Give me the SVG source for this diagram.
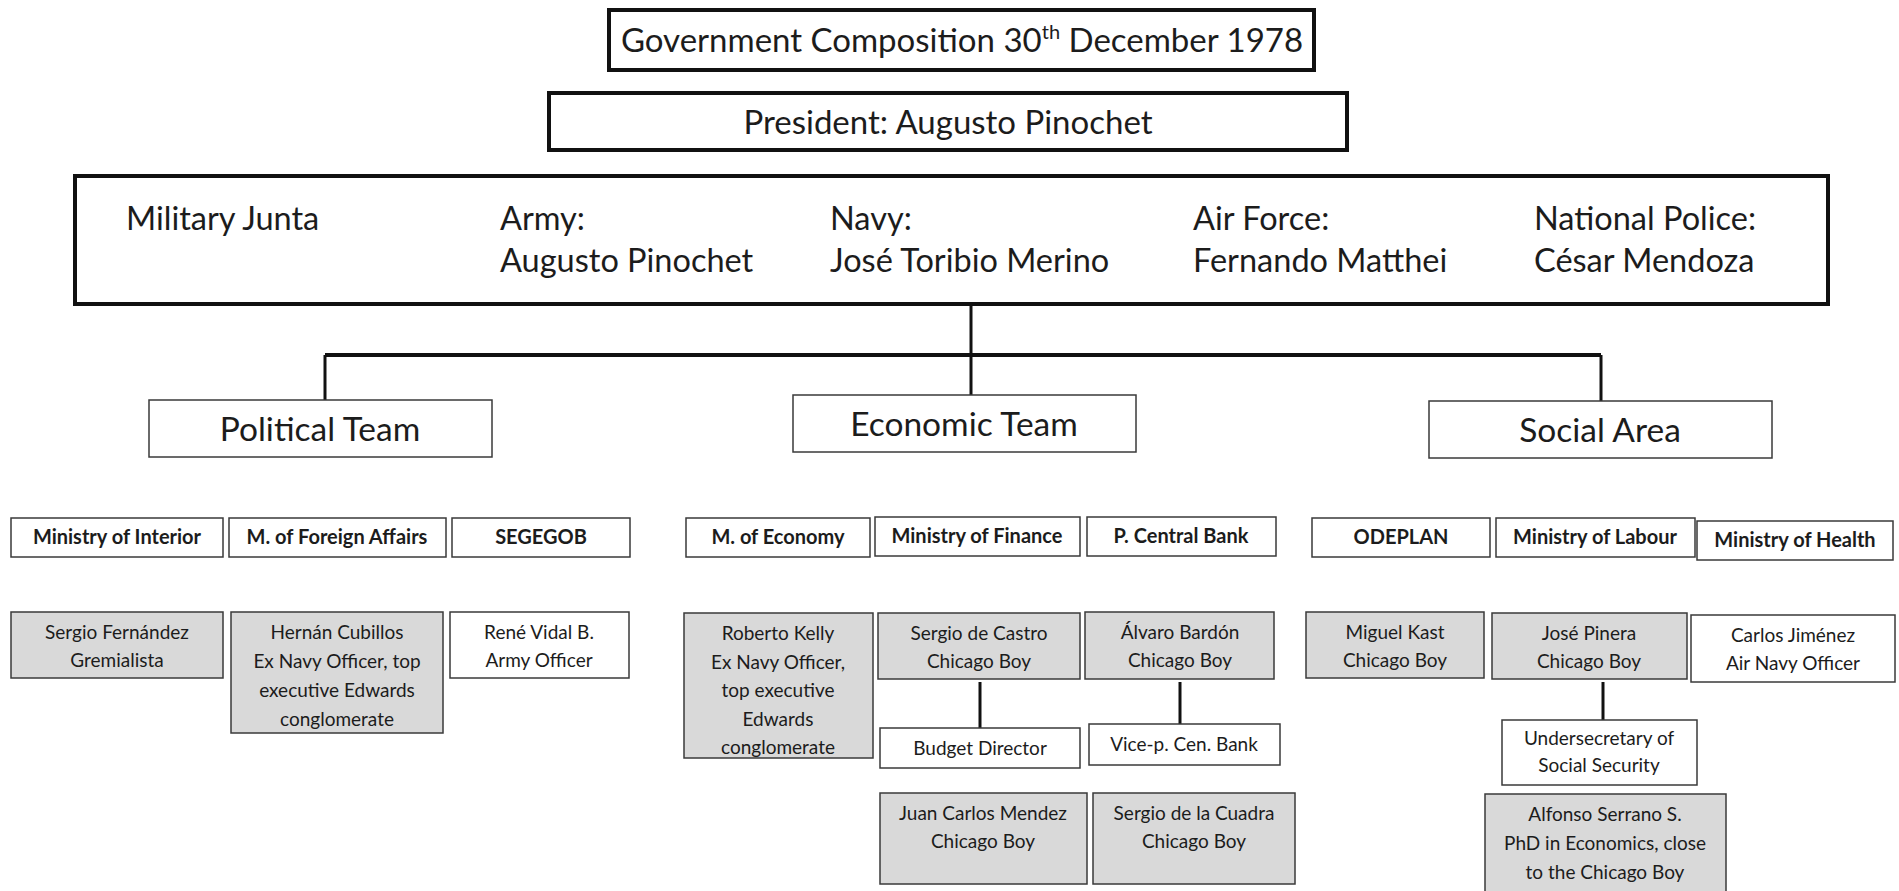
<svg xmlns="http://www.w3.org/2000/svg" width="1899" height="891" viewBox="0 0 1899 891">
  <style>
    text { font-family: Lato, "Liberation Sans", sans-serif; fill: #1c1c1c; }
    .top { fill: #ffffff; stroke: #111111; stroke-width: 4; }
    .team { fill: #ffffff; stroke: #3a3a3a; stroke-width: 1.5; }
    .min { fill: #ffffff; stroke: #3a3a3a; stroke-width: 1.5; }
    .grey { fill: #d9d9d9; stroke: #3a3a3a; stroke-width: 1.5; }
    .white { fill: #ffffff; stroke: #3a3a3a; stroke-width: 1.5; }
    .big { font-size: 33px; text-anchor: middle; }
    .junta { font-size: 32.5px; }
    .teamt { font-size: 33.5px; text-anchor: middle; }
    .mint { font-size: 20px; font-weight: bold; text-anchor: middle; }
    .pt { font-size: 19px; text-anchor: middle; }
    .conn { stroke: #111111; fill: none; }
  </style>
  <rect width="1899" height="891" fill="#ffffff"/>

  <!-- connectors -->
  <g id="connectors" class="conn">
    <line x1="971" y1="304" x2="971" y2="395" stroke-width="3"/>
    <line x1="325" y1="355" x2="1601" y2="355" stroke-width="4"/>
    <line x1="325" y1="355" x2="325" y2="400" stroke-width="3"/>
    <line x1="1601" y1="355" x2="1601" y2="401" stroke-width="3"/>
    <line x1="980" y1="682" x2="980" y2="728" stroke-width="3"/>
    <line x1="1180" y1="682" x2="1180" y2="724" stroke-width="3"/>
    <line x1="1603" y1="682" x2="1603" y2="720" stroke-width="3"/>
  </g>

  <!-- header -->
  <g id="title">
    <rect class="top" x="609" y="10" width="705" height="60" stroke-width="3.5"/>
    <text class="big" x="962" y="52">Government Composition 30<tspan font-size="20" dy="-13">th</tspan><tspan dy="13"> December 1978</tspan></text>
  </g>
  <g id="president">
    <rect class="top" x="549" y="93" width="798" height="57" stroke-width="3.5"/>
    <text class="big" x="948" y="134" font-size="30">President: Augusto Pinochet</text>
  </g>
  <g id="junta">
    <rect class="top" x="75" y="176" width="1753" height="128" stroke-width="5"/>
    <text class="junta" x="126" y="230">Military Junta</text>
    <text class="junta" x="500" y="230">Army:</text>
    <text class="junta" x="500" y="272">Augusto Pinochet</text>
    <text class="junta" x="830" y="230">Navy:</text>
    <text class="junta" x="830" y="272">José Toribio Merino</text>
    <text class="junta" x="1193" y="230">Air Force:</text>
    <text class="junta" x="1193" y="272">Fernando Matthei</text>
    <text class="junta" x="1534" y="230">National Police:</text>
    <text class="junta" x="1534" y="272">César Mendoza</text>
  </g>

  <!-- teams -->
  <g id="political-team">
    <rect class="team" x="149" y="400" width="343" height="57"/>
    <text class="teamt" x="320" y="441">Political Team</text>
  </g>
  <g id="economic-team">
    <rect class="team" x="793" y="395" width="343" height="57"/>
    <text class="teamt" x="964" y="436">Economic Team</text>
  </g>
  <g id="social-area">
    <rect class="team" x="1429" y="401" width="343" height="57"/>
    <text class="teamt" x="1600" y="442">Social Area</text>
  </g>

  <!-- ministries -->
  <g id="min-interior"><rect class="min" x="11" y="518" width="212" height="39"/><text class="mint" x="117" y="544">Ministry of Interior</text></g>
  <g id="min-foreign"><rect class="min" x="229" y="518" width="217" height="39"/><text class="mint" x="337" y="544">M. of Foreign Affairs</text></g>
  <g id="min-segegob"><rect class="min" x="452" y="518" width="178" height="39"/><text class="mint" x="541" y="544">SEGEGOB</text></g>
  <g id="min-economy"><rect class="min" x="686" y="518" width="184" height="39"/><text class="mint" x="778" y="544">M. of Economy</text></g>
  <g id="min-finance"><rect class="min" x="875" y="517" width="205" height="39"/><text class="mint" x="977" y="543">Ministry of Finance</text></g>
  <g id="min-bank"><rect class="min" x="1087" y="517" width="189" height="39"/><text class="mint" x="1181" y="543">P. Central Bank</text></g>
  <g id="min-odeplan"><rect class="min" x="1312" y="518" width="178" height="39"/><text class="mint" x="1401" y="544">ODEPLAN</text></g>
  <g id="min-labour"><rect class="min" x="1496" y="518" width="199" height="39"/><text class="mint" x="1595" y="544">Ministry of Labour</text></g>
  <g id="min-health"><rect class="min" x="1697" y="521" width="196" height="39"/><text class="mint" x="1795" y="547">Ministry of Health</text></g>

  <!-- office holders -->
  <g id="p-fernandez">
    <rect class="grey" x="11" y="612" width="212" height="66"/>
    <text class="pt" x="117" y="639">Sergio Fernández</text>
    <text class="pt" x="117" y="667">Gremialista</text>
  </g>
  <g id="p-cubillos">
    <rect class="grey" x="231" y="612" width="212" height="121"/>
    <text class="pt" x="337" y="639">Hernán  Cubillos</text>
    <text class="pt" x="337" y="668">Ex Navy Officer, top</text>
    <text class="pt" x="337" y="697">executive Edwards</text>
    <text class="pt" x="337" y="726">conglomerate</text>
  </g>
  <g id="p-vidal">
    <rect class="white" x="450" y="612" width="179" height="66"/>
    <text class="pt" x="539" y="639">René Vidal B.</text>
    <text class="pt" x="539" y="667">Army Officer</text>
  </g>
  <g id="p-kelly">
    <rect class="grey" x="684" y="613" width="189" height="145"/>
    <text class="pt" x="778" y="640">Roberto Kelly</text>
    <text class="pt" x="778" y="668.5">Ex Navy Officer,</text>
    <text class="pt" x="778" y="697">top executive</text>
    <text class="pt" x="778" y="725.5">Edwards</text>
    <text class="pt" x="778" y="754">conglomerate</text>
  </g>
  <g id="p-castro">
    <rect class="grey" x="878" y="613" width="202" height="66"/>
    <text class="pt" x="979" y="640">Sergio de Castro</text>
    <text class="pt" x="979" y="668">Chicago Boy</text>
  </g>
  <g id="p-bardon">
    <rect class="grey" x="1085" y="612" width="189" height="67"/>
    <text class="pt" x="1180" y="639">Álvaro Bardón</text>
    <text class="pt" x="1180" y="667">Chicago Boy</text>
  </g>
  <g id="p-budget">
    <rect class="white" x="880" y="728" width="200" height="40"/>
    <text class="pt" x="980" y="755">Budget  Director</text>
  </g>
  <g id="p-vicebank">
    <rect class="white" x="1089" y="724" width="191" height="41"/>
    <text class="pt" x="1184" y="751">Vice-p. Cen. Bank</text>
  </g>
  <g id="p-mendez">
    <rect class="grey" x="880" y="793" width="207" height="91"/>
    <text class="pt" x="983" y="820">Juan Carlos Mendez</text>
    <text class="pt" x="983" y="848">Chicago Boy</text>
  </g>
  <g id="p-cuadra">
    <rect class="grey" x="1093" y="793" width="202" height="91"/>
    <text class="pt" x="1194" y="820">Sergio de la Cuadra</text>
    <text class="pt" x="1194" y="848">Chicago Boy</text>
  </g>
  <g id="p-kast">
    <rect class="grey" x="1306" y="612" width="178" height="66"/>
    <text class="pt" x="1395" y="639">Miguel  Kast</text>
    <text class="pt" x="1395" y="667">Chicago Boy</text>
  </g>
  <g id="p-pinera">
    <rect class="grey" x="1492" y="613" width="195" height="66"/>
    <text class="pt" x="1589" y="640">José Pinera</text>
    <text class="pt" x="1589" y="668">Chicago Boy</text>
  </g>
  <g id="p-jimenez">
    <rect class="white" x="1691" y="615" width="204" height="67"/>
    <text class="pt" x="1793" y="642">Carlos Jiménez</text>
    <text class="pt" x="1793" y="670">Air Navy Officer</text>
  </g>
  <g id="p-undersecretary">
    <rect class="white" x="1502" y="720" width="195" height="65"/>
    <text class="pt" x="1599" y="745">Undersecretary  of</text>
    <text class="pt" x="1599" y="772">Social Security</text>
  </g>
  <g id="p-serrano">
    <rect class="grey" x="1485" y="794" width="241" height="110"/>
    <text class="pt" x="1605" y="821">Alfonso Serrano S.</text>
    <text class="pt" x="1605" y="850">PhD in Economics, close</text>
    <text class="pt" x="1605" y="879">to the Chicago Boy</text>
  </g>
</svg>
